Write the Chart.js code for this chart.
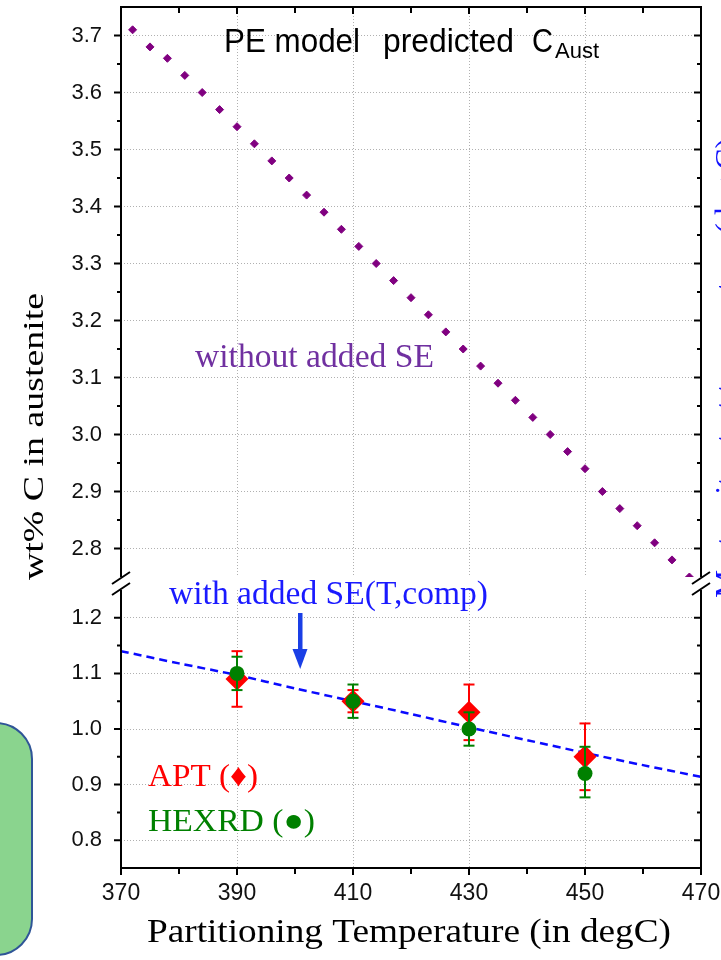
<!DOCTYPE html>
<html><head><meta charset="utf-8">
<script src="https://cdn.jsdelivr.net/npm/chart.js@4.4.0/dist/chart.umd.min.js"></script>
<style>
html,body{margin:0;padding:0;background:#fff;width:721px;height:960px;overflow:hidden;}
canvas{position:absolute;left:0;top:0;}
</style></head><body>
<canvas id="c1" width="721" height="960"></canvas>
<canvas id="c2" width="721" height="960"></canvas>
<script>
// ---------- data ----------
const tempNoSE = [372,375,378,381,384,387,390,393,396,399,402,405,408,411,414,417,420,423,426,429,432,435,438,441,444,447,450,453,456,459,462,465,468];
const cNoSE    = [3.71,3.68,3.66,3.63,3.60,3.57,3.54,3.51,3.48,3.45,3.42,3.39,3.36,3.33,3.30,3.27,3.24,3.21,3.18,3.15,3.12,3.09,3.06,3.03,3.00,2.97,2.94,2.90,2.87,2.84,2.81,2.78,2.75];
const tempSE   = [370,380,390,400,410,420,430,440,450,460,470];
const cSE      = [1.140,1.118,1.097,1.073,1.050,1.027,1.003,0.980,0.957,0.935,0.914];
const tempExp  = [390,410,430,450];
const cAPT     = [1.09,1.05,1.03,0.95];
const aptLow   = [1.04,1.03,0.98,0.89];
const aptHigh  = [1.14,1.07,1.08,1.01];
const cHEXRD   = [1.10,1.05,1.00,0.92];
const hexLow   = [1.07,1.02,0.97,0.877];
const hexHigh  = [1.13,1.08,1.03,0.968];
const xTicks      = [370,390,410,430,450,470];
const yTicksUpper = [2.8,2.9,3.0,3.1,3.2,3.3,3.4,3.5,3.6,3.7];
const yTicksLower = [0.8,0.9,1.0,1.1,1.2];
const upperRange = [2.75,3.75];
const lowerRange = [0.75,1.25];
const xRange = [370,470];

// ---------- helpers ----------
const SANS = "'Liberation Sans', Arial, sans-serif";
const SERIF = "'Liberation Serif', 'Times New Roman', serif";
const GRID = '#b0b0b0';

function mids(arr){ const m=[]; for(let i=0;i<arr.length-1;i++) m.push((arr[i]+arr[i+1])/2); return m; }

function fitText(ctx, txt, x, y, font, color, width, rot){
  ctx.save();
  ctx.font = font; ctx.fillStyle = color; ctx.textBaseline='alphabetic'; ctx.textAlign='left';
  const w = ctx.measureText(txt).width;
  const s = width ? width / w : 1;
  ctx.translate(x, y);
  if (rot) ctx.rotate(rot);
  ctx.scale(s, 1);
  ctx.fillText(txt, 0, 0);
  ctx.restore();
}

function noPad(s){ s.paddingLeft = 0; s.paddingRight = 0; s.paddingTop = 0; s.paddingBottom = 0; }

function scales(yRange, yTicks, showX){
  return {
    x: {
      type:'linear', min:xRange[0], max:xRange[1],
      afterBuildTicks: s => { s.ticks = xTicks.map(v => ({value:v})); },
      afterFit: s => { s.height = showX ? 92 : 0; noPad(s); },
      grid: { color: c => (c.tick && (c.tick.value===xRange[0] || c.tick.value===xRange[1])) ? 'rgba(0,0,0,0)' : GRID, lineWidth:1, drawTicks:false },
      border: { display:false, dash:[1,2] },
      ticks: { display:showX, padding:12, autoSkip:false, maxRotation:0, color:'#111', font:{family:SANS, size:23}, callback: v => String(v) }
    },
    y: {
      type:'linear', min:yRange[0], max:yRange[1],
      afterBuildTicks: s => { s.ticks = yTicks.map(v => ({value:v})); },
      afterFit: s => { s.width = 121; noPad(s); },
      grid: { color: GRID, lineWidth:1, drawTicks:false },
      border: { display:false, dash:[1,2] },
      ticks: { padding:19, autoSkip:false, color:'#111', font:{family:SANS, size:22}, callback: v => Number(v).toFixed(1) }
    }
  };
}

// frame, ticks and axis-break marks
function framePlugin(part, yTicks){
  return {
    id:'frame_'+part,
    afterDatasetsDraw(chart){
      const {ctx, chartArea:a, scales:{x, y}} = chart;
      ctx.save();
      ctx.strokeStyle = '#000'; ctx.lineCap='butt';
      ctx.lineWidth = 2;
      ctx.beginPath();
      ctx.moveTo(a.left, a.top); ctx.lineTo(a.left, a.bottom);
      ctx.moveTo(a.right, a.top); ctx.lineTo(a.right, a.bottom);
      if (part==='upper'){ ctx.moveTo(a.left-1, a.top); ctx.lineTo(a.right+1, a.top); }
      else { ctx.moveTo(a.left-1, a.bottom); ctx.lineTo(a.right+1, a.bottom); }
      ctx.stroke();
      ctx.beginPath();
      yTicks.forEach(v => { const p = y.getPixelForValue(v);
        ctx.moveTo(a.left-7, p); ctx.lineTo(a.left, p);
        ctx.moveTo(a.right, p); ctx.lineTo(a.right-7, p); });
      mids(yTicks).forEach(v => { const p = y.getPixelForValue(v);
        ctx.moveTo(a.left-4, p); ctx.lineTo(a.left, p);
        ctx.moveTo(a.right, p); ctx.lineTo(a.right-4, p); });
      xTicks.forEach(v => { const p = x.getPixelForValue(v);
        if (part==='upper'){ ctx.moveTo(p, a.top); ctx.lineTo(p, a.top+7); }
        else { ctx.moveTo(p, a.bottom); ctx.lineTo(p, a.bottom+7); } });
      mids(xTicks).forEach(v => { const p = x.getPixelForValue(v);
        if (part==='upper'){ ctx.moveTo(p, a.top); ctx.lineTo(p, a.top+6); }
        else { ctx.moveTo(p, a.bottom); ctx.lineTo(p, a.bottom+6); } });
      ctx.stroke();
      ctx.beginPath();
      const yb = part==='upper' ? a.bottom+1 : a.top-1;
      [a.left, a.right].forEach(xb => { ctx.moveTo(xb-9, yb+6); ctx.lineTo(xb+9, yb-6); });
      ctx.stroke();
      ctx.restore();
    }
  };
}

const upperText = {
  id:'upperText',
  afterDraw(chart){
    const ctx = chart.ctx;
    fitText(ctx, 'PE model', 224, 52, '34px ' + SANS, '#000', 136);
    fitText(ctx, 'predicted', 383, 52, '34px ' + SANS, '#000', 131);
    fitText(ctx, 'C', 532, 52, '34px ' + SANS, '#000', 21);
    fitText(ctx, 'Aust', 555, 58, '22px ' + SANS, '#000', 44);
    fitText(ctx, 'without added SE', 195, 367, '33px ' + SERIF, '#7030a0', 239);
    fitText(ctx, 'wt% C in austenite', 43, 580, '30px ' + SERIF, '#000', 287, -Math.PI/2);
    // secondary axis label, cut off at the right edge
    fitText(ctx, 'Martensite start temperature (deg C)', 737, 598, '31px ' + SERIF, '#1010ff', 460, -Math.PI/2);
  }
};

const lowerText = {
  id:'lowerText',
  afterDraw(chart){
    const ctx = chart.ctx;
    fitText(ctx, 'with added SE(T,comp)', 169, 604, '33px ' + SERIF, '#1a1aff', 319);
    ctx.save();
    ctx.fillStyle = '#1a3fe6';
    ctx.fillRect(298, 613, 4.5, 40);
    ctx.beginPath(); ctx.moveTo(292.5, 649); ctx.lineTo(307.5, 649); ctx.lineTo(300.2, 669); ctx.closePath(); ctx.fill();
    ctx.restore();
    fitText(ctx, 'APT (\u2666)', 148, 786, '32px ' + SERIF, '#ff0000', 110);
    fitText(ctx, 'HEXRD (\u25CF)', 148, 831, '32px ' + SERIF, '#008000', 167);
    fitText(ctx, 'Partitioning Temperature (in degC)', 147, 942, '34px ' + SERIF, '#000', 524);
    ctx.save();
    ctx.fillStyle = '#8ad48e'; ctx.strokeStyle = '#2f5597'; ctx.lineWidth = 2;
    ctx.beginPath();
    if (ctx.roundRect) ctx.roundRect(-60, 723, 92, 232, 36); else ctx.rect(-60, 723, 92, 232);
    ctx.fill(); ctx.stroke();
    ctx.restore();
  }
};

const baseOptions = {
  responsive:false, animation:false, events:[],
  plugins:{ legend:{display:false}, tooltip:{enabled:false} }
};

// ---------- upper chart ----------
new Chart(document.getElementById('c1'), {
  type:'scatter',
  data:{ datasets:[{
    data: tempNoSE.map((t,i)=>({x:t, y:cNoSE[i]})),
    pointStyle:'rectRot', pointRadius:4, pointBackgroundColor:'#800080', pointBorderColor:'#800080', pointBorderWidth:1, showLine:false
  }]},
  options:{
    ...baseOptions,
    layout:{ padding:{ left:0, top:7, right:20, bottom:383 } },
    scales: scales(upperRange, yTicksUpper, false)
  },
  plugins:[framePlugin('upper', yTicksUpper), upperText]
});

// ---------- lower chart ----------
function errorBars(xs, lo, hi, color, order){
  return xs.map((x,i)=>({
    data:[{x, y:lo[i]},{x, y:hi[i]}], showLine:true, borderColor:color, borderWidth:2,
    pointStyle:'line', pointRadius:5.5, pointBorderColor:color, pointBorderWidth:2, order
  }));
}
const lowerDatasets = [
  { data: tempExp.map((t,i)=>({x:t, y:cHEXRD[i]})), pointStyle:'circle', pointRadius:7.5,
    pointBackgroundColor:'#008000', pointBorderColor:'#008000', pointBorderWidth:0, order:0 },
  ...errorBars(tempExp, hexLow, hexHigh, '#008000', 1),
  { data: tempExp.map((t,i)=>({x:t, y:cAPT[i]})), pointStyle:'rectRot', pointRadius:11.5,
    pointBackgroundColor:'#ff0000', pointBorderColor:'#ff0000', pointBorderWidth:0, order:2 },
  ...errorBars(tempExp, aptLow, aptHigh, '#ff0000', 3),
  { data: tempSE.map((t,i)=>({x:t, y:cSE[i]})), showLine:true, borderColor:'#0a0aff', borderWidth:2.5,
    borderDash:[8,5], pointRadius:0, tension:0.3, order:4 }
];
new Chart(document.getElementById('c2'), {
  type:'scatter',
  data:{ datasets: lowerDatasets },
  options:{
    ...baseOptions,
    layout:{ padding:{ left:0, top:590, right:20, bottom:0 } },
    scales: scales(lowerRange, yTicksLower, true)
  },
  plugins:[framePlugin('lower', yTicksLower), lowerText]
});
</script>
</body></html>
